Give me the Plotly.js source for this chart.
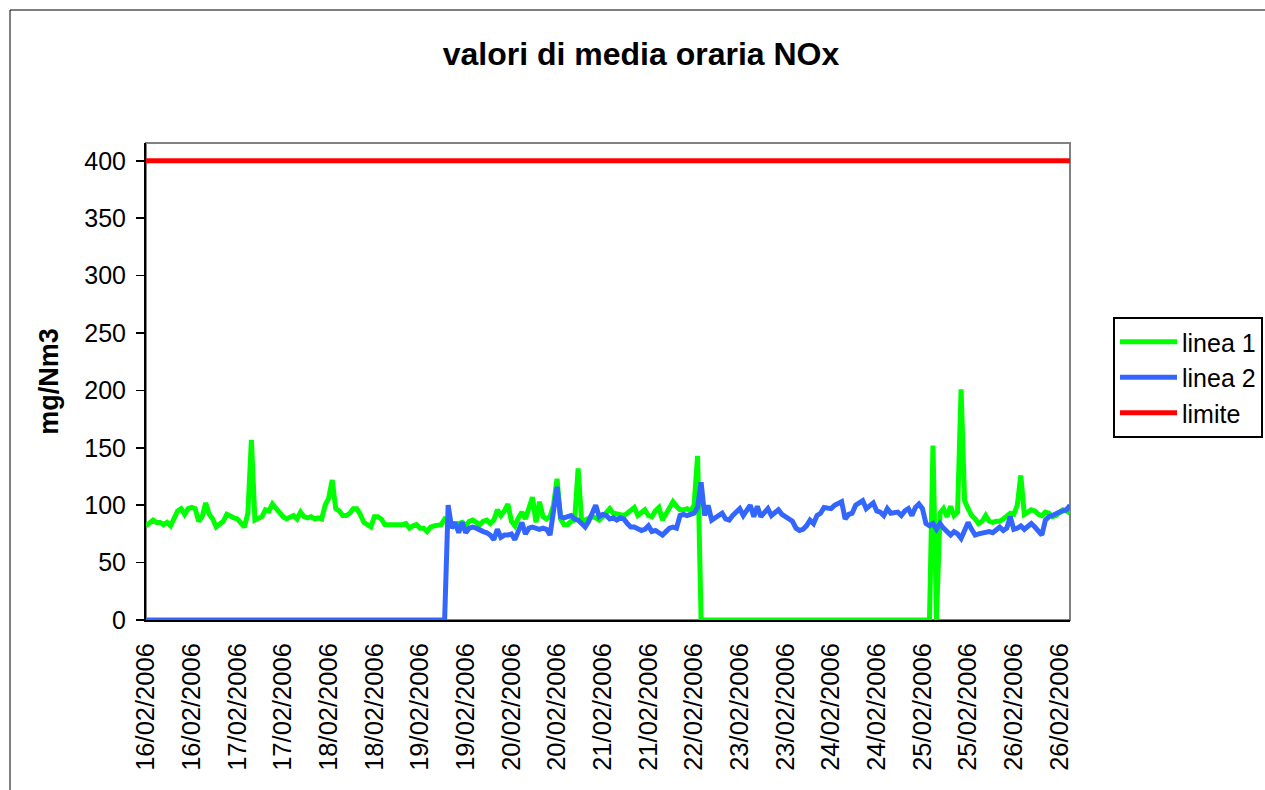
<!DOCTYPE html>
<html>
<head>
<meta charset="utf-8">
<script src="https://cdn.plot.ly/plotly-3.0.1.min.js"></script>
<style>
  html, body { margin: 0; padding: 0; background: #ffffff; }
  #chart { width: 1265px; height: 790px; }
</style>
</head>
<body>
<div id="chart"></div>
<script>
// ---- DATA (hourly averages, 16/02/2006 00:00 -> 26/02/2006 23:00) ----
const chartTitle = 'valori di media oraria NOx';
const yTitle = 'mg/Nm3';
const seriesNames = ['linea 1', 'linea 2', 'limite'];

const tickLabels = [
  '16/02/2006', '16/02/2006', '17/02/2006', '17/02/2006', '18/02/2006',
  '18/02/2006', '19/02/2006', '19/02/2006', '20/02/2006', '20/02/2006',
  '21/02/2006', '21/02/2006', '22/02/2006', '23/02/2006', '23/02/2006',
  '24/02/2006', '24/02/2006', '25/02/2006', '25/02/2006', '26/02/2006',
  '26/02/2006'
];

const linea1 = [
  82, 85, 87, 85, 85, 83, 85, 82, 88, 95,
  97, 92, 97, 98, 97, 86, 90, 102, 92, 88,
  81, 84, 86, 92, 90, 89, 88, 84, 81, 93,
  157, 87, 88, 90, 96, 95, 101, 97, 93, 90,
  88, 89, 91, 88, 94, 90, 89, 90, 88, 89,
  88, 100, 106, 122, 97, 95, 91, 91, 93, 97,
  97, 92, 85, 83, 81, 90, 90, 88, 83, 83,
  83, 82, 82, 83, 84, 80, 82, 83, 80, 80,
  77, 81, 82, 82, 83, 88, 86, 85, 83, 84,
  85, 82, 86, 87, 85, 83, 86, 87, 84, 87,
  96, 91, 95, 101, 86, 82, 89, 94, 88, 98,
  107, 85, 103, 90, 88, 90, 100, 123, 88, 83,
  83, 86, 87, 132, 86, 87, 89, 90, 89, 87,
  90, 94, 97, 93, 92, 92, 91, 93, 96, 98,
  91, 94, 96, 91, 90, 95, 98, 87, 92, 97,
  103, 99, 96, 96, 97, 95, 100, 143, 0, 0,
  0, 0, 0, 0, 0, 0, 0, 0, 0, 0,
  0, 0, 0, 0, 0, 0, 0, 0, 0, 0,
  0, 0, 0, 0, 0, 0, 0, 0, 0, 0,
  0, 0, 0, 0, 0, 0, 0, 0, 0, 0,
  0, 0, 0, 0, 0, 0, 0, 0, 0, 0,
  0, 0, 0, 0, 0, 0, 0, 0, 0, 0,
  0, 0, 0, 0, 152, 0, 93, 97, 90, 99,
  91, 94, 201, 104, 97, 91, 88, 84, 86, 91,
  86, 85, 86, 86, 88, 91, 93, 92, 100, 126,
  92, 94, 96, 95, 92, 91, 94, 93, 90, 91,
  93, 96, 95, 93
];

const linea2 = [
  0, 0, 0, 0, 0, 0, 0, 0, 0, 0,
  0, 0, 0, 0, 0, 0, 0, 0, 0, 0,
  0, 0, 0, 0, 0, 0, 0, 0, 0, 0,
  0, 0, 0, 0, 0, 0, 0, 0, 0, 0,
  0, 0, 0, 0, 0, 0, 0, 0, 0, 0,
  0, 0, 0, 0, 0, 0, 0, 0, 0, 0,
  0, 0, 0, 0, 0, 0, 0, 0, 0, 0,
  0, 0, 0, 0, 0, 0, 0, 0, 0, 0,
  0, 0, 0, 0, 0, 0, 100, 80, 85, 76,
  85, 76, 80, 81, 80, 78, 77, 76, 74, 70,
  79, 72, 74, 74, 75, 70, 78, 85, 75, 80,
  81, 80, 79, 80, 79, 74, 92, 116, 90, 89,
  90, 91, 88, 87, 84, 81, 86, 94, 100, 90,
  92, 91, 88, 89, 87, 89, 88, 84, 81, 81,
  80, 78, 79, 82, 77, 78, 76, 74, 77, 80,
  81, 80, 91, 92, 91, 92, 93, 98, 120, 91,
  100, 87, 89, 91, 93, 88, 87, 91, 94, 97,
  91, 96, 100, 90, 99, 90, 93, 97, 91, 94,
  96, 92, 90, 88, 86, 80, 78, 79, 82, 87,
  84, 91, 93, 98, 97, 97, 100, 101, 103, 88,
  92, 93, 100, 102, 104, 97, 99, 102, 95, 94,
  91, 97, 93, 93, 94, 91, 95, 97, 91, 98,
  101, 97, 84, 82, 84, 79, 84, 80, 77, 74,
  77, 75, 71, 79, 85, 79, 74, 75, 76, 77,
  77, 76, 78, 81, 78, 80, 90, 79, 80, 82,
  79, 81, 84, 81, 78, 74, 87, 90, 91, 93,
  94, 95, 96, 100
];

const limiteValue = 400;

// ---- BUILD ----
const n = linea1.length;
const xIdx = linea1.map((_, i) => i);          // hourly category positions
const labelStep = 13;                          // one label every 13 categories
const tickStep = 10;                           // one tick mark every 10 categories
const labelPos = tickLabels.map((_, k) => k * labelStep);
const tickPos = [];
for (let p = 0; p < n; p += tickStep) tickPos.push(p);
const xRange = [0, n - 1];
const yRange = [0, 415.5];

const FONT = '"Liberation Sans", Arial, Helvetica, sans-serif';

// plot area in pixels (for converting decorative frame positions)
const PL = 146, PR = 1070, PT = 143, PB = 620;
const px2x = p => (p - PL) / (PR - PL);
const px2y = p => (PB - p) / (PB - PT);

const traces = [
  { x: xIdx, y: linea1, name: seriesNames[0], type: 'scatter', mode: 'lines',
    line: { color: '#00FF00', width: 5 }, hoverinfo: 'y' },
  { x: xIdx, y: linea2, name: seriesNames[1], type: 'scatter', mode: 'lines',
    line: { color: '#3366FF', width: 5 }, hoverinfo: 'y' },
  { x: [xRange[0], xRange[1]], y: [limiteValue, limiteValue], name: seriesNames[2],
    type: 'scatter', mode: 'lines', line: { color: '#FF0000', width: 5 }, hoverinfo: 'y' }
];

const tickCommon = { showgrid: false, zeroline: false, fixedrange: true, automargin: false };

const layout = {
  width: 1265, height: 790, autosize: false,
  margin: { l: PL, r: 1265 - PR, t: PT, b: 790 - PB, pad: 0 },
  paper_bgcolor: '#ffffff', plot_bgcolor: '#ffffff',
  font: { family: FONT, color: '#000000', size: 25 },
  showlegend: true,
  title: {
    text: chartTitle,
    font: { family: FONT, size: 32, weight: 'bold', color: '#000' },
    xref: 'container', yref: 'container',
    x: 641 / 1265, xanchor: 'center',
    y: 1 - 54 / 790, yanchor: 'middle'
  },
  xaxis: Object.assign({}, tickCommon, {
    range: xRange, tickmode: 'array', tickvals: labelPos, ticktext: tickLabels,
    tickangle: -90, ticks: '', tickfont: { family: FONT, size: 25.5, color: '#000' },
    ticklabelstandoff: 11,
    showline: true, linecolor: '#000000', linewidth: 2
  }),
  xaxis2: Object.assign({}, tickCommon, {
    range: xRange, overlaying: 'x', anchor: 'y', side: 'bottom',
    tickmode: 'array', tickvals: tickPos, ticks: 'outside', ticklen: 8,
    tickwidth: 1.5, tickcolor: '#000', showticklabels: false, showline: false
  }),
  xaxis3: Object.assign({}, tickCommon, {
    range: xRange, overlaying: 'x', anchor: 'y', side: 'bottom',
    tickmode: 'array', tickvals: tickPos, ticks: 'inside', ticklen: 8,
    tickwidth: 1.5, tickcolor: '#000', showticklabels: false, showline: false
  }),
  yaxis: Object.assign({}, tickCommon, {
    range: yRange, tickmode: 'linear', tick0: 0, dtick: 50,
    ticks: 'outside', ticklen: 8, tickwidth: 1.5, tickcolor: '#000',
    tickfont: { family: FONT, size: 25, color: '#000' },
    ticklabelstandoff: 5,
    showline: true, linecolor: '#000000', linewidth: 2,
    title: { text: yTitle, font: { family: FONT, size: 27, weight: 'bold', color: '#000' }, standoff: 18 }
  }),
  yaxis2: Object.assign({}, tickCommon, {
    range: yRange, overlaying: 'y', anchor: 'x', side: 'left',
    tickmode: 'linear', tick0: 0, dtick: 50, ticks: 'inside', ticklen: 7,
    tickwidth: 1.5, tickcolor: '#000', showticklabels: false, showline: false
  }),
  legend: {
    x: 1113 / 1265, y: 1 - 317 / 790, xanchor: 'left', yanchor: 'top',
    xref: 'container', yref: 'container',
    bordercolor: '#000000', borderwidth: 2, bgcolor: '#ffffff',
    font: { family: FONT, size: 25, color: '#000' },
    itemwidth: 57, tracegroupgap: 0
  },
  shapes: [
    // plot-area frame (grey)
    { type: 'rect', xref: 'paper', yref: 'paper', x0: 0, x1: 1, y0: 0, y1: 1,
      line: { color: '#808080', width: 2 }, layer: 'below' },
    // outer chart border
    { type: 'rect', xref: 'paper', yref: 'paper',
      x0: px2x(10), x1: px2x(1300), y0: px2y(800), y1: px2y(10),
      line: { color: '#000000', width: 1 }, layer: 'below' }
  ]
};

Plotly.newPlot('chart', traces, layout, { staticPlot: true, displayModeBar: false });
</script>
</body>
</html>
